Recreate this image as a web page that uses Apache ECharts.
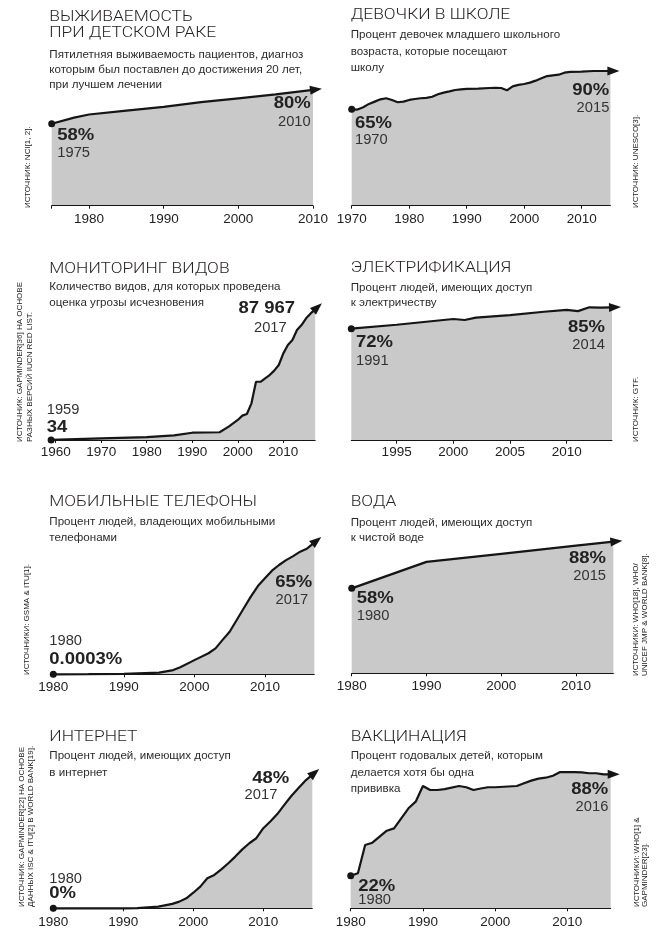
<!DOCTYPE html>
<html><head><meta charset="utf-8">
<script src="https://cdn.jsdelivr.net/npm/echarts@6/dist/echarts.min.js"></script>
<style>html,body{margin:0;padding:0;background:#fff}#c{width:658px;height:932px}</style>
</head><body><div id="c"></div>
<script>
// ---------- DATA ----------
const survivalYears  = [1975,1978,1980,1985,1990,1995,2000,2005,2010];
const survivalValues = [58,62,64,66.5,69,72,74.5,77,80];
const survivalTicks  = [1980,1990,2000,2010];

const schoolYears  = [1970,1971,1972,1973,1974,1975,1976,1977,1978,1979,1980,1981,1982,1983,1984,1985,1986,1987,1988,1989,1990,1992,1994,1995,1996,1997,1998,1999,2000,2001,2002,2003,2004,2005,2006,2007,2008,2010,2012,2015];
const schoolValues = [65,64.8,66.3,68.5,70,71.5,72.2,71.1,69.6,70,71.1,71.7,72.2,72.4,73.2,74.8,75.9,76.7,77.6,78,78.3,78.5,78.9,79,78.9,77.4,80,80.9,81.5,82.4,83.7,85.2,86.7,87.2,87.6,88.9,89.4,89.6,90,90];
const schoolTicks  = [1970,1980,1990,2000,2010];

const speciesYears  = [1959,1970,1980,1986,1990,1996,1998,2000,2001,2002,2003,2004,2005,2006,2007,2008,2009,2010,2011,2012,2013,2014,2015,2016,2017];
const speciesValues = [34,1100,2000,3100,4900,5200,9000,13500,16400,17500,24700,39200,39200,41500,43700,46700,50500,58300,63900,67300,74000,77400,81900,85200,87967];
const speciesTicks  = [1960,1970,1980,1990,2000,2010];

const electricYears  = [1991,1995,2000,2001,2002,2005,2008,2010,2011,2012,2013,2014];
const electricValues = [72,74.4,77.9,77.3,78.7,80.3,82.3,83.4,82.7,85,84.8,85];
const electricTicks  = [1995,2000,2005,2010];

const mobileYears  = [1980,1985,1990,1995,1997,1998,2000,2002,2003,2004,2005,2006,2007,2008,2009,2010,2011,2012,2013,2014,2015,2016,2017];
const mobileValues = [0.0003,0.05,0.2,0.8,2.1,3.5,7,10.4,12.8,17,21,26.8,32.6,38.4,43.6,47.4,51.2,54,56.4,58.4,60.6,62.2,65];
const mobileTicks  = [1980,1990,2000,2010];

const waterYears  = [1980,1990,2000,2010,2015];
const waterValues = [58,75,80.2,85.4,88];
const waterTicks  = [1980,1990,2000,2010];

const internetYears  = [1980,1990,1992,1995,1997,1998,1999,2000,2001,2002,2003,2004,2005,2006,2007,2008,2009,2010,2011,2012,2013,2014,2015,2016,2017];
const internetValues = [0,0,0.05,0.6,1.6,2.4,3.6,5.6,7.8,10.8,12,14,16.2,18.6,21.2,23.4,25.2,28.8,31.2,33.9,37.2,40.4,43.2,45.9,48];
const internetTicks  = [1980,1990,2000,2010];

const vaccineYears  = [1980,1981,1982,1983,1984,1985,1986,1987,1988,1989,1990,1991,1992,1993,1995,1996,1997,1998,1999,2000,2003,2004,2005,2006,2007,2008,2009,2010,2011,2012,2013,2014,2015,2016];
const vaccineValues = [22,23.6,42,43.5,47.4,51.3,52.8,59.4,65.9,70.2,80.4,77.8,77.8,78.4,80.4,79.6,77.8,78.8,79.6,79.6,80.4,82.2,83.9,85.2,85.8,87.1,89.5,89.5,89.5,89.3,88.7,88.7,88,88];
const vaccineTicks  = [1980,1990,2000,2010];

// ---------- LAYOUT ----------
const panels = [
  {years:survivalYears, values:survivalValues, ticks:survivalTicks, tickMarks:[1975].concat(survivalTicks), margin:7, grid:{left:51.7,top:58.9,width:261.3,height:146.8}, x:[1975,2010], y:[5,100]},
  {years:schoolYears, values:schoolValues, ticks:schoolTicks, tickMarks:schoolTicks, margin:7, grid:{left:351.7,top:55.7,width:258.7,height:150}, x:[1970,2015], y:[2,100]},
  {years:speciesYears, values:speciesValues, ticks:speciesTicks, tickMarks:speciesTicks, margin:5, grid:{left:51.1,top:306.3,width:264.1,height:133.7}, x:[1959,2017], y:[0,90000]},
  {years:electricYears, values:electricValues, ticks:electricTicks, tickMarks:electricTicks, margin:5, grid:{left:351.3,top:282.6,width:260.7,height:158.1}, x:[1991,2014], y:[4,100]},
  {years:mobileYears, values:mobileValues, ticks:mobileTicks, tickMarks:mobileTicks, margin:5.5, grid:{left:53.3,top:532.6,width:261,height:141.7}, x:[1980,2017], y:[0,70]},
  {years:waterYears, values:waterValues, ticks:waterTicks, tickMarks:waterTicks, margin:5.5, grid:{left:351.7,top:523,width:261.7,height:150.3}, x:[1980,2015], y:[3.4,100]},
  {years:internetYears, values:internetValues, ticks:internetTicks, tickMarks:internetTicks, margin:6.5, grid:{left:53.3,top:769.3,width:259,height:139}, x:[1980,2017], y:[0,50]},
  {years:vaccineYears, values:vaccineValues, ticks:vaccineTicks, tickMarks:vaccineTicks, margin:6.5, grid:{left:350.7,top:755.9,width:260,height:152.4}, x:[1980,2016], y:[0.8,100]}
];

const titles = [
  ['ВЫЖИВАЕМОСТЬ',49.3,17.2],['ПРИ ДЕТСКОМ РАКЕ',49.3,33.3],
  ['ДЕВОЧКИ В ШКОЛЕ',350.7,15.5],
  ['МОНИТОРИНГ ВИДОВ',49.3,268.7],
  ['ЭЛЕКТРИФИКАЦИЯ',350.7,268],
  ['МОБИЛЬНЫЕ ТЕЛЕФОНЫ',49.3,502],
  ['ВОДА',350.7,502],
  ['ИНТЕРНЕТ',49.3,737],
  ['ВАКЦИНАЦИЯ',350.7,737]
];
const subtitles = [
  ['Пятилетняя выживаемость пациентов, диагноз',49.3,54.5],
  ['которым был поставлен до достижения 20 лет,',49.3,70.2],
  ['при лучшем лечении',49.3,84.5],
  ['Процент девочек младшего школьного',350.7,35.3],
  ['возраста, которые посещают',350.7,51.6],
  ['школу',350.7,67.6],
  ['Количество видов, для которых проведена',49.3,286.5],
  ['оценка угрозы исчезновения',49.3,302.5],
  ['Процент людей, имеющих доступ',350.7,287.5],
  ['к электричеству',350.7,303.3],
  ['Процент людей, владеющих мобильными',49.3,522],
  ['телефонами',49.3,537.6],
  ['Процент людей, имеющих доступ',350.7,522.5],
  ['к чистой воде',350.7,538.3],
  ['Процент людей, имеющих доступ',49.3,756],
  ['в интернет',49.3,772.6],
  ['Процент годовалых детей, которым',350.7,756],
  ['делается хотя бы одна',350.7,772.6],
  ['прививка',350.7,788.6]
];
// [text, x, y, align]
const valueLabels = [
  ['58%',57.3,135.5,'left'],['80%',310.7,103.7,'right'],
  ['65%',355,123.3,'left'],['90%',609.3,90.8,'right'],
  ['34',46.7,427.2,'left'],['87 967',295,308.7,'right'],
  ['72%',356,342.8,'left'],['85%',605,327.2,'right'],
  ['0.0003%',49.3,659.7,'left'],['65%',312.3,582.8,'right'],
  ['58%',356.7,598.8,'left'],['88%',606,558.3,'right'],
  ['0%',49.3,893.8,'left'],['48%',289.3,778.7,'right'],
  ['22%',358.3,886.2,'left'],['88%',608.3,789.5,'right']
];
const yearLabels = [
  ['1975',57.3,152.5,'left'],['2010',310.7,121.9,'right'],
  ['1970',355,140.3,'left'],['2015',609.3,108,'right'],
  ['1959',46.7,410.3,'left'],['2017',286.7,328.3,'right'],
  ['1991',356,361.3,'left'],['2014',605,345,'right'],
  ['1980',49.3,641.2,'left'],['2017',308.3,600.3,'right'],
  ['1980',356.7,616.3,'left'],['2015',606,576.2,'right'],
  ['1980',49.3,878.7,'left'],['2017',277.3,794.7,'right'],
  ['1980',358.3,900.3,'left'],['2016',608.3,806.7,'right']
];
// [text, columnX, bottomY]
const sources = [
  ['ИСТОЧНИК: NCI[1, 2].',28.3,208],
  ['ИСТОЧНИК: UNESCO[3].',636,208],
  ['ИСТОЧНИК: GAPMINDER[36] НА ОСНОВЕ',20,442],
  ['РАЗНЫХ ВЕРСИЙ IUCN RED LIST.',30,442],
  ['ИСТОЧНИК: GTF.',636,442],
  ['ИСТОЧНИКИ: GSMA & ITU[1].',26.5,675],
  ['ИСТОЧНИКИ: WHO[18], WHO/',636,676],
  ['UNICEF JMP & WORLD BANK[8].',645,676],
  ['ИСТОЧНИК: GAPMINDER[22] НА ОСНОВЕ',21.7,907],
  ['ДАННЫХ ISC & ITU[2] В WORLD BANK[19].',30.7,907],
  ['ИСТОЧНИКИ: WHO[1] &',636.7,907],
  ['GAPMINDER[23].',645,907]
];

// ---------- FONTS ----------
const F_TITLE = '300 15.5px Roboto';
const F_SUB = '11.5px "Liberation Sans"';
const F_VAL = 'bold 16px "Liberation Sans"';
const F_YEAR = '15px "Liberation Sans"';
const F_SRC = '7.5px "Liberation Sans"';
const mctx = document.createElement('canvas').getContext('2d');
function measure(t, f){ mctx.font = f; return mctx.measureText(t).width; }
const sTitle = 143.3 / measure('ВЫЖИВАЕМОСТЬ', F_TITLE);
const sSub = 254 / measure('Пятилетняя выживаемость пациентов, диагноз', F_SUB);
const sVal = 37 / measure('58%', F_VAL);
const sYear = 32.7 / measure('1975', F_YEAR);
const sSrc = 160 / measure('ИСТОЧНИК: GAPMINDER[36] НА ОСНОВЕ', F_SRC);

function txt(text, x, y, font, color, align, scale, rot){
  return {type:'text', x:x, y:y, rotation:rot||0, scaleX:scale||1, silent:true, z:10,
    style:{text:text, font:font, fill:color, textAlign:align, textVerticalAlign:'middle', align:align, verticalAlign:'middle'}};
}

const chart = echarts.init(document.getElementById('c'), null, {renderer:'canvas'});

function buildSeries(arrows){
  return panels.map((p,i)=>({
    type:'line', xAxisIndex:i, yAxisIndex:i, animation:false, silent:true, clip:false,
    showSymbol:true, showAllSymbol:true, z:3,
    lineStyle:{color:'#151515', width:2.2},
    itemStyle:{color:'#151515', borderWidth:0},
    areaStyle:{color:'#c9c9c9', opacity:1, origin:'start'},
    emphasis:{disabled:true},
    data:p.years.map((yr,k)=>{
      const item = {value:[yr,p.values[k]]};
      if(k===0){ item.symbol='circle'; item.symbolSize=7; }
      else if(k===p.years.length-1){
        item.symbol='triangle'; item.symbolSize=[9,12];
        if(arrows){ item.symbolRotate=arrows[i].rot; item.symbolOffset=arrows[i].off; }
      } else item.symbol='none';
      return item;
    })
  }));
}

const graphics = [];
titles.forEach(t=>graphics.push(txt(t[0],t[1],t[2],F_TITLE,'#231f20','left',sTitle)));
subtitles.forEach(t=>graphics.push(txt(t[0],t[1],t[2],F_SUB,'#2b2b2b','left',sSub)));
valueLabels.forEach(t=>graphics.push(txt(t[0],t[1],t[2],F_VAL,'#222',t[3],sVal)));
yearLabels.forEach(t=>graphics.push(txt(t[0],t[1],t[2],F_YEAR,'#333',t[3],sYear)));
sources.forEach(t=>graphics.push(txt(t[0],t[1],t[2],F_SRC,'#1a1a1a','left',sSrc,Math.PI/2)));

const option = {
  animation:false,
  backgroundColor:'#fff',
  grid: panels.map(p=>Object.assign({outerBoundsMode:'none', containLabel:false}, p.grid)),
  xAxis: panels.map((p,i)=>({
    type:'value', gridIndex:i, min:p.x[0], max:p.x[1], z:5,
    axisLine:{show:true, onZero:false, lineStyle:{color:'#151515', width:1}},
    axisTick:{show:true, customValues:p.tickMarks, length:3, lineStyle:{color:'#151515', width:1}},
    axisLabel:{customValues:p.ticks, fontSize:13.5, fontFamily:'Liberation Sans', color:'#222', margin:p.margin, hideOverlap:false, formatter:v=>String(v)},
    splitLine:{show:false}
  })),
  yAxis: panels.map((p,i)=>({type:'value', gridIndex:i, min:p.y[0], max:p.y[1], show:false, splitLine:{show:false}})),
  series: buildSeries(null),
  graphic: {elements: graphics}
};
chart.setOption(option);

// arrow directions computed from the last segment in pixel space
const arrows = panels.map((p,i)=>{
  const n = p.years.length;
  const a = chart.convertToPixel({gridIndex:i}, [p.years[n-2], p.values[n-2]]);
  const b = chart.convertToPixel({gridIndex:i}, [p.years[n-1], p.values[n-1]]);
  const ang = Math.atan2(-(b[1]-a[1]), b[0]-a[0]);
  return {rot: ang*180/Math.PI - 90, off:[Math.cos(ang)*3, -Math.sin(ang)*3]};
});
chart.setOption({series: buildSeries(arrows)});
</script></body></html>
